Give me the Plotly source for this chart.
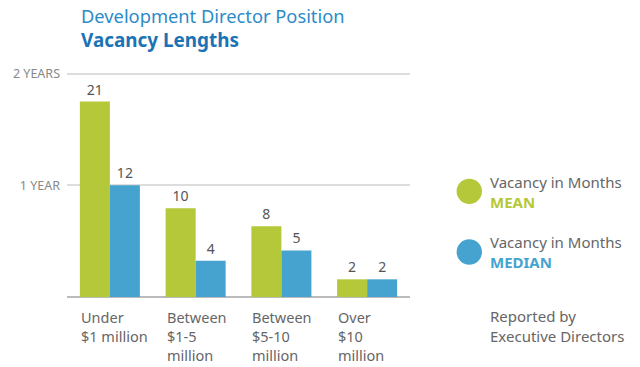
import plotly.graph_objects as go

categories = ["Under $1 million", "Between $1-5 million", "Between $5-10 million", "Over $10 million"]
cat_labels = ["Under<br>$1 million", "Between<br>$1-5<br>million", "Between<br>$5-10<br>million", "Over<br>$10<br>million"]
mean_months = [21, 9.55, 7.6, 1.9]
median_months = [12, 3.9, 5, 1.9]
tick_vals = [12, 24]
tick_text = ["1 YEAR", "2 YEARS"]

GREEN = "#b4c83a"
BLUE = "#46a3d0"
FONT = "Noto Sans"

W, H = 640, 367
PX_L, PX_R, PX_T, PX_B = 67, 410, 68.6, 296.7
L, R, T, B = PX_L, W - PX_R, PX_T, H - PX_B
pw, ph = PX_R - PX_L, PX_B - PX_T

def px2x(px):
    return (px - PX_L) / pw

def py2y(py):
    return (PX_B - py) / ph

fig = go.Figure()
fig.add_trace(go.Bar(x=categories, y=mean_months, marker_color=GREEN, marker_line_width=0,
                     texttemplate="%{y:.0f}", textposition="outside",
                     textfont=dict(color="#555555", size=14, family=FONT), cliponaxis=False,
                     name="Mean"))
fig.add_trace(go.Bar(x=categories, y=median_months, marker_color=BLUE, marker_line_width=0,
                     texttemplate="%{y:.0f}", textposition="outside",
                     textfont=dict(color="#555555", size=14, family=FONT), cliponaxis=False,
                     name="Median"))

annotations = []
for c, lab in zip(categories, cat_labels):
    annotations.append(dict(x=c, y=0, xref="x", yref="y", text=lab, showarrow=False,
                            xanchor="left", yanchor="top", align="left", xshift=-31, yshift=-8,
                            font=dict(color="#666666", size=14.5, family=FONT)))

annotations += [
    dict(x=px2x(79), y=py2y(15.5), xref="paper", yref="paper", xanchor="left", yanchor="middle",
         text="Development Director Position", showarrow=False,
         font=dict(color="#2b8bc9", size=18.3, family=FONT)),
    dict(x=px2x(79), y=py2y(39.8), xref="paper", yref="paper", xanchor="left", yanchor="middle",
         text="<b>Vacancy Lengths</b>", showarrow=False,
         font=dict(color="#1b72b5", size=18.9, family=FONT)),
    dict(x=px2x(488), y=py2y(192), xref="paper", yref="paper", xanchor="left", yanchor="middle",
         align="left", showarrow=False,
         text="Vacancy in Months<br><span style='color:%s'><b>MEAN</b></span>" % GREEN,
         font=dict(color="#666666", size=15, family=FONT)),
    dict(x=px2x(488), y=py2y(252), xref="paper", yref="paper", xanchor="left", yanchor="middle",
         align="left", showarrow=False,
         text="Vacancy in Months<br><span style='color:%s'><b>MEDIAN</b></span>" % BLUE,
         font=dict(color="#666666", size=15, family=FONT)),
    dict(x=px2x(488), y=py2y(326), xref="paper", yref="paper", xanchor="left", yanchor="middle",
         align="left", showarrow=False,
         text="Reported by<br>Executive Directors",
         font=dict(color="#666666", size=15, family=FONT)),
]

shapes = []
for cy, col in [(191, GREEN), (251.7, BLUE)]:
    r = 12.7
    shapes.append(dict(type="circle", xref="paper", yref="paper",
                       x0=px2x(469.3 - r), x1=px2x(469.3 + r),
                       y0=py2y(cy + r), y1=py2y(cy - r),
                       fillcolor=col, line_width=0))

fig.update_layout(
    width=W, height=H,
    margin=dict(l=L, r=R, t=T, b=B, autoexpand=False),
    paper_bgcolor="white", plot_bgcolor="white",
    barmode="group", bargap=0.3, bargroupgap=0,
    showlegend=False,
    annotations=annotations, shapes=shapes,
    font=dict(family=FONT),
    xaxis=dict(showticklabels=False, showgrid=False, zeroline=False, showline=False, ticks=""),
    yaxis=dict(range=[0, 24.5], tickvals=tick_vals, ticktext=tick_text,
               tickfont=dict(color="#888888", size=12.5, family=FONT),
               showgrid=True, gridcolor="#dddddd", gridwidth=1.5,
               zeroline=True, zerolinecolor="#bbbbbb", zerolinewidth=2,
               showline=False, ticks="", ticklabelstandoff=6),
)

fig.write_html("out.html", config={"displayModeBar": False},
               post_script="document.body.style.margin='0';document.body.style.overflow='hidden';")
